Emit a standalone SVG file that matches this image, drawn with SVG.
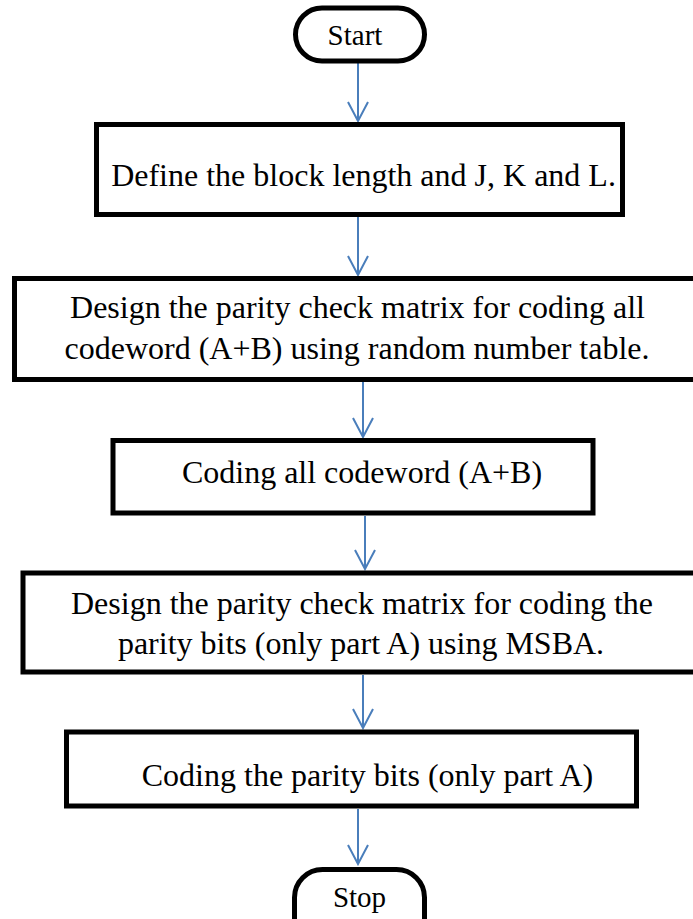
<svg xmlns="http://www.w3.org/2000/svg" width="693" height="919" viewBox="0 0 693 919">
  <style>
    .box { fill: #ffffff; stroke: #000000; stroke-width: 5; }
    .term { fill: #ffffff; stroke: #000000; stroke-width: 5; }
    .lbl { font-family: "Liberation Serif", "Times New Roman", serif; font-size: 32px; fill: #000000; text-anchor: middle; }
    .tlbl { font-family: "Liberation Serif", "Times New Roman", serif; font-size: 29px; fill: #000000; text-anchor: middle; }
    .flow { fill: none; stroke: #4A7EBB; stroke-width: 2; marker-end: url(#vee); }
  </style>
  <defs>
    <!-- open V arrowhead, tip at the line end -->
    <marker id="vee" viewBox="0 0 22 22" refX="20" refY="11" markerWidth="22" markerHeight="22" markerUnits="userSpaceOnUse" orient="auto">
      <path d="M1,1 L20,11 L1,21" fill="none" stroke="#4A7EBB" stroke-width="2"/>
    </marker>
  </defs>
  <rect width="693" height="919" fill="#ffffff"/>

  <!-- connectors -->
  <g id="connectors">
    <line class="flow" x1="358" y1="63" x2="358" y2="121"/>
    <line class="flow" x1="358" y1="217" x2="358" y2="275"/>
    <line class="flow" x1="363" y1="382" x2="363" y2="437"/>
    <line class="flow" x1="365" y1="516" x2="365" y2="569"/>
    <line class="flow" x1="363" y1="675" x2="363" y2="728"/>
    <line class="flow" x1="358" y1="809" x2="358" y2="864"/>
  </g>

  <g id="start">
    <rect class="term" x="295.5" y="8" width="129" height="53" rx="26.5"/>
    <text class="tlbl" x="355" y="45">Start</text>
  </g>

  <g id="define">
    <rect class="box" x="96.5" y="124.5" width="526" height="90"/>
    <text class="lbl" x="363.5" y="186">Define the block length and J, K and L.</text>
  </g>

  <g id="design-all">
    <rect class="box" x="14.5" y="278.5" width="690" height="101"/>
    <text class="lbl" x="357.5" y="318">Design the parity check matrix for coding all</text>
    <text class="lbl" x="357" y="359">codeword (A+B) using random number table.</text>
  </g>

  <g id="coding-all">
    <rect class="box" x="113" y="440.5" width="480" height="72.5"/>
    <text class="lbl" x="362" y="483">Coding all codeword (A+B)</text>
  </g>

  <g id="design-parity">
    <rect class="box" x="23" y="573" width="690" height="99"/>
    <text class="lbl" x="362" y="614">Design the parity check matrix for coding the</text>
    <text class="lbl" x="361" y="654">parity bits (only part A) using MSBA.</text>
  </g>

  <g id="coding-parity">
    <rect class="box" x="66.5" y="732" width="570" height="74"/>
    <text class="lbl" x="367.5" y="786">Coding the parity bits (only part A)</text>
  </g>

  <g id="stop">
    <rect class="term" x="294.5" y="869.5" width="130" height="80" rx="28"/>
    <text class="tlbl" x="359.5" y="907">Stop</text>
  </g>
</svg>
